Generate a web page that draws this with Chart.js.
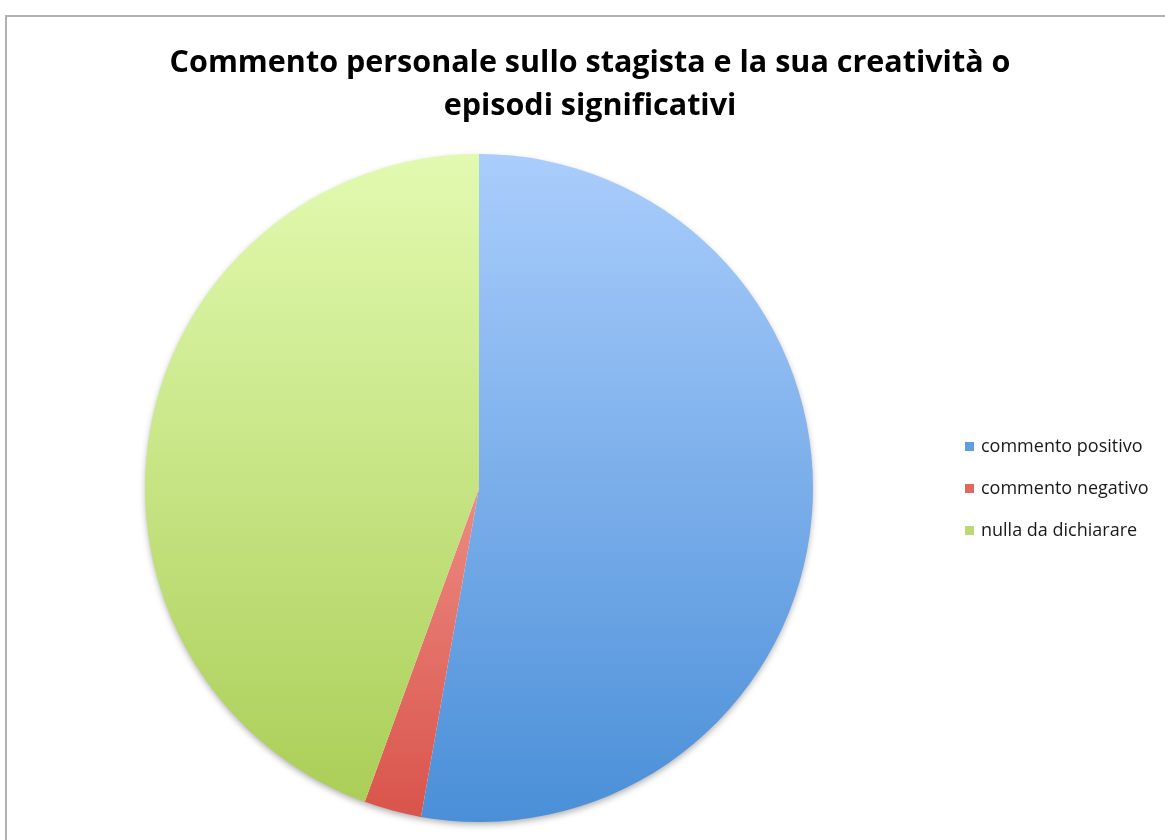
<!DOCTYPE html>
<html lang="it">
<head>
<meta charset="utf-8">
<title>Commento personale</title>
<script src="https://cdn.jsdelivr.net/npm/chart.js@4/dist/chart.umd.min.js"></script>
<style>
  html, body { margin: 0; padding: 0; background: #fff; overflow: hidden; }
  .frame {
    position: absolute; left: 5px; top: 15px; width: 1200px; height: 900px;
    border-top: 2px solid #b1b1b1; border-left: 2px solid #b1b1b1;
  }
  #wrap { position: absolute; left: 0; top: 0; width: 1180px; height: 840px; }
</style>
</head>
<body>
<div class="frame"></div>
<div id="wrap"><canvas id="graph"></canvas></div>
<script>
// categorie
const LABELS = ['commento positivo', 'commento negativo', 'nulla da dichiarare'];

// numero di risposte
const VALUES = [19, 1, 16];

// titolo (due righe)
const TITLE = ['Commento personale sullo stagista e la sua creatività o', 'episodi significativi'];

// colori sfumati: [alto, basso] per ogni fetta
const GRAD_COLORS = [
  ['#aacdfc', '#4a8fd8'],
  ['#ffc4bc', '#d9534a'],
  ['#e2fab0', '#a9cd55']
];

// colori dei quadratini in legenda
const LEGEND_COLORS = ['#5f9ee2', '#e4675e', '#bcd874'];

// sfumatura verticale sull'intera torta
function sliceColor(ctx) {
  const area = ctx.chart.chartArea;
  const pair = GRAD_COLORS[ctx.dataIndex];
  if (!area) return pair[1];
  const g = ctx.chart.ctx.createLinearGradient(0, area.top, 0, area.bottom);
  g.addColorStop(0, pair[0]);
  g.addColorStop(1, pair[1]);
  return g;
}

// titolo centrato sull'intero riquadro
const frameTitle = {
  id: 'frameTitle',
  afterDraw(chart) {
    const c = chart.ctx;
    c.save();
    c.font = 'bold 30.5px "Open Sans", Lato, sans-serif';
    c.fillStyle = '#000';
    c.textAlign = 'center';
    c.textBaseline = 'middle';
    TITLE.forEach(function(line, i) {
      c.fillText(line, chart.width / 2, 63 + i * 43);
    });
    c.restore();
  }
};

// ombra sotto la torta
const pieShadow = {
  id: 'pieShadow',
  beforeDatasetsDraw(chart) {
    const arc = chart.getDatasetMeta(0).data[0];
    if (!arc) return;
    const c = chart.ctx;
    c.save();
    c.shadowColor = 'rgba(0,0,0,0.35)';
    c.shadowBlur = 7;
    c.shadowOffsetY = 3;
    c.fillStyle = '#fff';
    c.beginPath();
    c.arc(arc.x, arc.y, arc.outerRadius - 1, 0, Math.PI * 2);
    c.fill();
    c.restore();
  }
};

// legenda a destra
const sideLegend = {
  id: 'sideLegend',
  afterDraw(chart) {
    const c = chart.ctx;
    const area = chart.chartArea;
    const x = area.right + 152;
    const y0 = (area.top + area.bottom) / 2 - 41;
    c.save();
    c.font = '18px "Open Sans", Lato, sans-serif';
    c.textBaseline = 'middle';
    LABELS.forEach(function(label, i) {
      const y = y0 + i * 42;
      c.fillStyle = LEGEND_COLORS[i];
      c.fillRect(x, y - 5, 9, 9);
      c.fillStyle = '#1a1a1a';
      c.fillText(label, x + 16, y);
    });
    c.restore();
  }
};

new Chart(document.getElementById('graph'), {
  type: 'pie',
  data: {
    labels: LABELS,
    datasets: [{
      data: VALUES,
      backgroundColor: sliceColor,
      borderWidth: 0,
      hoverOffset: 0
    }]
  },
  options: {
    responsive: true,
    maintainAspectRatio: false,
    animation: false,
    events: [],
    layout: { padding: { left: 145, right: 367, top: 154, bottom: 18 } },
    plugins: {
      legend: { display: false },
      tooltip: { enabled: false },
      title: { display: false }
    }
  },
  plugins: [pieShadow, sideLegend, frameTitle]
});
</script>
</body>
</html>
